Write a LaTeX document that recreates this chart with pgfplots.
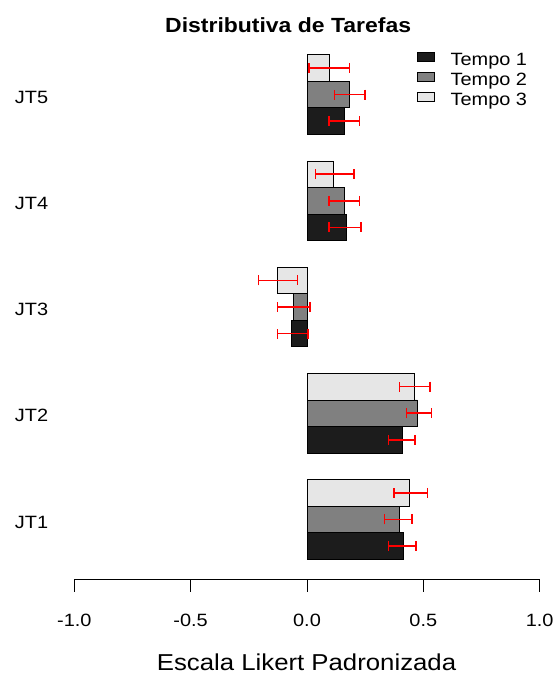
\documentclass[border=0pt]{standalone}
\usepackage{pgfplots}
\usepackage{pgfplotstable}
\pgfplotsset{compat=1.18}
\usepackage{fontspec}
\setmainfont{Liberation Sans}[FakeStretch=1.12]
\definecolor{cA}{HTML}{1C1C1C}
\definecolor{cB}{HTML}{808080}
\definecolor{cC}{HTML}{E6E6E6}
\definecolor{errred}{HTML}{FF0000}

\pgfplotstableread{
x y ep em
0.416 1.5 0.052 0.066
0.410 5.5 0.054 0.060
-0.067 9.5 0.071 0.059
0.168 13.5 0.063 0.073
0.162 17.5 0.063 0.067
}\tempoA
\pgfplotstableread{
x y ep em
0.398 2.5 0.053 0.065
0.474 6.5 0.062 0.047
-0.060 10.5 0.072 0.066
0.161 14.5 0.065 0.066
0.183 18.5 0.066 0.064
}\tempoB
\pgfplotstableread{
x y ep em
0.440 3.5 0.077 0.066
0.463 7.5 0.066 0.065
-0.126 11.5 0.085 0.083
0.112 15.5 0.090 0.076
0.095 19.5 0.088 0.086
}\tempoC

\pgfplotsset{
  errstyle/.style={
    error bars/.cd,
      x dir=both, x explicit,
      error bar style={draw=errred, line width=1.5pt, solid},
      error mark=|,
      error mark options={draw=errred, line width=1.5pt, mark size=5pt},
  },
}

\begin{document}
\begin{tikzpicture}[x=1pt,y=1pt]
\useasboundingbox (0,0) rectangle (557,675);
\begin{axis}[
  at={(74.3pt,95.5pt)}, anchor=south west,
  scale only axis, width=465.4pt, height=545pt,
  xmin=-1, xmax=1, ymin=0.24, ymax=20.76,
  clip=false,
  axis x line*=bottom, axis y line*=left,
  x axis line style={black, line width=0.9pt, -},
  y axis line style={draw=none},
  xtick={-1,-0.5,0,0.5,1},
  xticklabels={-1.0,-0.5,0.0,0.5,1.0},
  xtick style={black, line width=0.9pt},
  ytick={2.5,6.5,10.5,14.5,18.5},
  yticklabels={JT1,JT2,JT3,JT4,JT5},
  ytick style={draw=none},
  tick align=outside, major tick length=12pt,
  xticklabel style={font=\fontsize{17.8}{20}\selectfont, anchor=base, inner sep=0pt, yshift=-34.5pt},
  yticklabel style={font=\fontsize{17.8}{20}\selectfont, anchor=base east, inner sep=0pt, xshift=-14pt, yshift=-8.6pt},
  legend cell align=left,
  legend style={at={(rel axis cs:0.7357,0.977)}, anchor=north west, draw=none, fill=none,
    inner sep=0pt, outer sep=0pt, row sep=0pt,
    font=\fontsize{17.8}{20}\selectfont,
    nodes={inner xsep=0.5pt, inner ysep=0pt, text height=18.5pt, text depth=1.5pt}},
  legend image code/.code={\draw[#1, line width=0.8pt] (0pt,-4.5pt) rectangle (17pt,4.5pt); \path[draw=none, fill=none] (0pt,0pt) -- (33pt,0pt);},
]
\addplot[xbar, bar width=1, bar shift=0pt, draw=black, line width=0.8pt, fill=cA] table[x=x, y=y] {\tempoA};
\addplot[xbar, bar width=1, bar shift=0pt, draw=black, line width=0.8pt, fill=cB] table[x=x, y=y] {\tempoB};
\addplot[xbar, bar width=1, bar shift=0pt, draw=black, line width=0.8pt, fill=cC] table[x=x, y=y] {\tempoC};
\legend{Tempo 1, Tempo 2, Tempo 3}
\addplot[draw=none, mark=none, forget plot, errstyle] table[x=x, y=y, x error plus=ep, x error minus=em] {\tempoA};
\addplot[draw=none, mark=none, forget plot, errstyle] table[x=x, y=y, x error plus=ep, x error minus=em] {\tempoB};
\addplot[draw=none, mark=none, forget plot, errstyle] table[x=x, y=y, x error plus=ep, x error minus=em] {\tempoC};
\end{axis}
\node[anchor=base west, inner sep=0pt, font=\bfseries\fontsize{20.5}{24}\selectfont] at (165,642.7) {Distributiva de Tarefas};
\node[anchor=base west, inner sep=0pt, font=\fontsize{23}{26}\selectfont] at (156.7,5) {Escala Likert Padronizada};
\end{tikzpicture}
\end{document}
